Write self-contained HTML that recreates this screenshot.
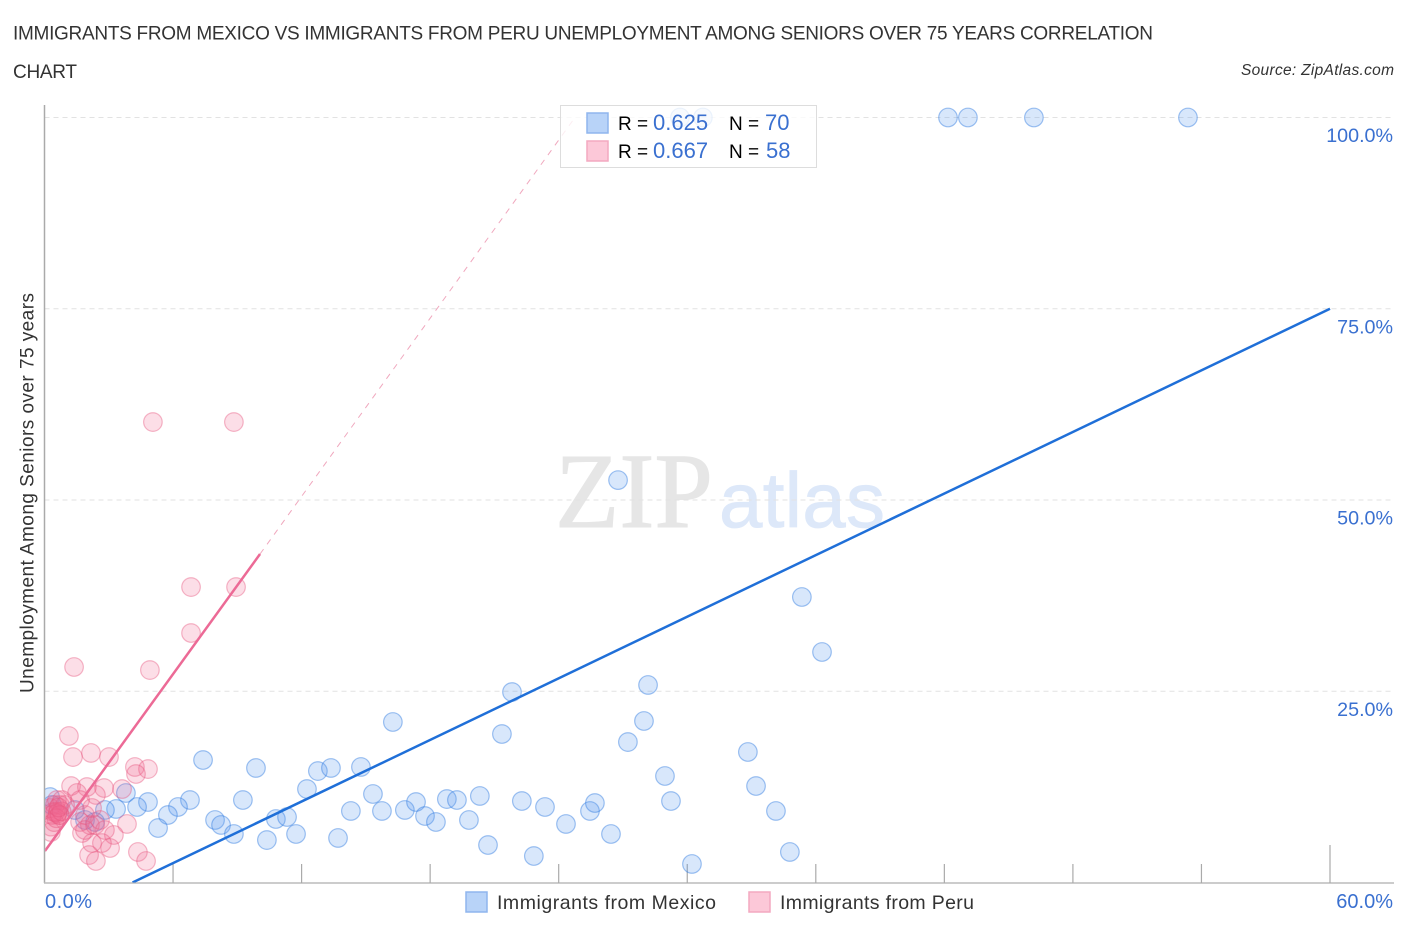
<!DOCTYPE html>
<html>
<head>
<meta charset="utf-8">
<title>Immigrants from Mexico vs Immigrants from Peru Unemployment Among Seniors over 75 Years Correlation Chart</title>
<style>
html,body{margin:0;padding:0;background:#fff;}
svg{display:block;font-family:"Liberation Sans",sans-serif;}
</style>
</head>
<body>
<svg id="chart" xmlns="http://www.w3.org/2000/svg" width="1406" height="930" viewBox="0 0 1406 930">
  <defs>
    <clipPath id="plot-clip"><rect x="45.2" y="90" width="1360" height="792.5"/></clipPath>
  </defs>
  <text x="13" y="39.5" font-size="19" fill="#333" textLength="1140" lengthAdjust="spacing">IMMIGRANTS FROM MEXICO VS IMMIGRANTS FROM PERU UNEMPLOYMENT AMONG SENIORS OVER 75 YEARS CORRELATION</text>
  <text x="13" y="78" font-size="19" fill="#333" textLength="64" lengthAdjust="spacing">CHART</text>
  <text x="1241" y="75" font-size="15.5" font-style="italic" fill="#333" textLength="153" lengthAdjust="spacing">Source: ZipAtlas.com</text>

  <text x="555" y="527" font-family="'Liberation Serif',serif" font-size="107" fill="#e6e6e6" stroke="#e6e6e6" stroke-width="1" textLength="158" lengthAdjust="spacingAndGlyphs">ZIP</text>
  <text x="719" y="527" font-size="78" fill="#dde8f9" stroke="#dde8f9" stroke-width="0.8" textLength="166" lengthAdjust="spacing">atlas</text>

  <g id="grid"></g>
  <g id="axes"></g>
  <g clip-path="url(#plot-clip)">
    <g id="blue-points"></g>
    <g id="pink-points"></g>
    <g id="trendlines"></g>
  </g>
  <g id="x-labels"></g>
  <g id="y-labels"></g>

  <text transform="translate(33.5,693) rotate(-90)" font-size="19" fill="#333" textLength="400" lengthAdjust="spacing">Unemployment Among Seniors over 75 years</text>

  <g>
    <rect x="560.5" y="105.5" width="256" height="62" fill="#fff" fill-opacity="0.8" stroke="#ddd" stroke-width="1"/>
    <rect x="587" y="113" width="21" height="20" fill="#b8d3f8" stroke="#8fb5ee" stroke-width="1.5"/>
    <rect x="587" y="141" width="21" height="20" fill="#fcc8d8" stroke="#f3a9c0" stroke-width="1.5"/>
    <text x="618" y="130" font-size="19">R =</text>
    <text x="653" y="130" font-size="22" fill="#3a70d0">0.625</text>
    <text x="729" y="130" font-size="19">N =</text>
    <text x="765" y="130" font-size="22" fill="#3a70d0">70</text>
    <text x="618" y="158" font-size="19">R =</text>
    <text x="653" y="158" font-size="22" fill="#3a70d0">0.667</text>
    <text x="729" y="158" font-size="19">N =</text>
    <text x="766" y="158" font-size="22" fill="#3a70d0">58</text>
  </g>

  <g>
    <rect x="466" y="892" width="21" height="20" fill="#b8d3f8" stroke="#8fb5ee" stroke-width="1.5"/>
    <text x="497" y="909" font-size="19.5" fill="#333" textLength="219" lengthAdjust="spacing">Immigrants from Mexico</text>
    <rect x="749" y="892" width="21" height="20" fill="#fcc8d8" stroke="#f3a9c0" stroke-width="1.5"/>
    <text x="780" y="909" font-size="19.5" fill="#333" textLength="194" lengthAdjust="spacing">Immigrants from Peru</text>
  </g>
</svg>
<script>
const mexicoX = [29.66,30.73,42.17,43.10,46.18,53.37,26.77,35.35,36.29,28.17,21.82,27.98,16.26,21.35,27.23,32.83,7.40,9.87,12.76,13.37,14.77,28.96,33.21,12.25,15.33,9.26,6.79,4.83,3.80,4.32,3.34,6.23,5.76,5.30,7.96,8.24,8.84,10.38,10.80,11.32,11.74,13.70,14.30,15.75,16.82,17.34,17.76,18.27,18.78,19.25,19.81,20.32,20.70,22.28,22.84,23.36,24.34,25.46,25.69,26.44,29.24,30.22,34.14,34.79,2.82,2.36,1.89,1.42,0.26,0.35];
const mexicoY = [100,100,100,100,100,100,52.6,37.32,30.13,25.82,24.9,21.11,20.98,19.41,18.36,17.06,16.01,14.97,14.57,14.97,15.10,13.92,12.61,12.22,11.57,10.78,10.78,10.52,11.70,9.87,9.61,9.87,8.82,7.12,8.17,7.52,6.34,5.55,8.30,8.56,6.34,5.82,9.35,9.35,9.48,10.52,8.69,7.91,10.91,10.78,8.17,11.31,4.90,10.65,3.46,9.87,7.65,9.35,10.39,6.34,10.65,2.42,9.35,3.99,9.48,7.91,8.17,9.48,11.17,10.13];
const peruX = [5.06,8.84,6.84,8.94,6.84,4.92,1.38,1.14,1.33,2.17,3.01,4.22,4.83,4.27,1.24,1.98,2.78,3.62,1.52,2.40,1.66,3.85,3.24,3.06,2.68,2.22,2.08,2.40,4.36,4.74,1.75,0.26,0.35,0.30,0.30,0.40,0.49,0.58,0.72,0.63,0.82,0.96,0.72,0.45,0.60,0.50,0.70,1.66,1.89,2.12,1.89,2.36,2.59,2.82,0.55,0.80,0.65,2.22];
const peruY = [60.19,60.19,38.62,38.62,32.61,27.77,28.17,19.15,16.40,16.93,16.40,15.10,14.83,14.18,12.61,12.48,12.35,12.22,11.70,11.44,10.78,7.65,6.21,4.51,5.16,5.16,3.59,2.81,3.99,2.81,6.47,9.74,8.82,7.30,6.60,9.21,10.13,10.78,10.13,9.21,10.78,10.13,8.82,7.90,9.00,9.20,8.80,7.91,8.82,7.52,6.86,7.52,8.17,6.86,8.40,9.30,9.80,9.74];
const mexicoTrendX = [4.11, 60];
const mexicoTrendY = [0, 75];
const peruTrendX = [0.02, 10.06];
const peruTrendY = [4.12, 42.94];
const peruExtensionX = [10.06, 24.76];
const peruExtensionY = [42.94, 100];
const yTickValues = [100, 75, 50, 25];
const yTickLabels = ["100.0%", "75.0%", "50.0%", "25.0%"];
const xTickValues = [6, 12, 18, 24, 30, 36, 42, 48, 54, 60];
const xEndLabels = ["0.0%", "60.0%"];

const NS = "http://www.w3.org/2000/svg";
function xScale(v){ return 44.5 + v * 21.425; }
function yScale(v){ return 882.5 - v * 7.65; }
function make(tag, parentId, attrs){
  const el = document.createElementNS(NS, tag);
  for (const k in attrs) el.setAttribute(k, attrs[k]);
  document.getElementById(parentId).appendChild(el);
  return el;
}

yTickValues.forEach(function(v){
  const g = make("line", "grid", {x1:44.5, x2:1393, y1:yScale(v), y2:yScale(v), stroke:"#e2e2e2", "stroke-width":1, "stroke-dasharray":"5 4"});
  
  
});

const ySpine = make("line", "axes", {x1:44.5, x2:44.5, y1:105, y2:883, stroke:"#aaa", "stroke-width":1.5});


const xSpine = make("line", "axes", {x1:44, x2:1394, y1:883, y2:883, stroke:"#bbb", "stroke-width":1.5});


xTickValues.forEach(function(v, i){
  const top = i === xTickValues.length - 1 ? 845 : 864;
  const t = make("line", "axes", {x1:xScale(v), x2:xScale(v), y1:top, y2:883, stroke:"#aaa", "stroke-width":1.2});
  
  
});

mexicoX.forEach(function(v, i){
  const c = make("circle", "blue-points", {cx:xScale(v), cy:yScale(mexicoY[i]), r:9.3, fill:"#5b9bf0", "fill-opacity":0.24, stroke:"#2f7ae0", "stroke-opacity":0.45, "stroke-width":1.2});
  
  
});
peruX.forEach(function(v, i){
  const c = make("circle", "pink-points", {cx:xScale(v), cy:yScale(peruY[i]), r:9.3, fill:"#f06a90", "fill-opacity":0.22, stroke:"#e8557f", "stroke-opacity":0.42, "stroke-width":1.2});
  
  
});

const peruExt = make("line", "trendlines", {x1:xScale(peruExtensionX[0]), y1:yScale(peruExtensionY[0]), x2:xScale(peruExtensionX[1]), y2:yScale(peruExtensionY[1]), stroke:"#f0a8be", "stroke-width":1, "stroke-dasharray":"6 6"});


const peruLine = make("line", "trendlines", {x1:xScale(peruTrendX[0]), y1:yScale(peruTrendY[0]), x2:xScale(peruTrendX[1]), y2:yScale(peruTrendY[1]), stroke:"#ec6a96", "stroke-width":2.5});


const mexicoLine = make("line", "trendlines", {x1:xScale(mexicoTrendX[0]), y1:yScale(mexicoTrendY[0]), x2:xScale(mexicoTrendX[1]), y2:yScale(mexicoTrendY[1]), stroke:"#1f6fd8", "stroke-width":2.5});



yTickValues.forEach(function(v, i){
  const t = make("text", "y-labels", {x:1393, y:yScale(v) + 24.5, "text-anchor":"end", "font-size":19.7, fill:"#3a70d0"});
  
  
  t.textContent = yTickLabels[i];
});
const x0 = make("text", "x-labels", {x:45, y:908, "font-size":20, fill:"#3a70d0", textLength:47, lengthAdjust:"spacing"});


x0.textContent = xEndLabels[0];
const x1 = make("text", "x-labels", {x:1393, y:908, "text-anchor":"end", "font-size":20, fill:"#3a70d0"});


x1.textContent = xEndLabels[1];
</script>
</body>
</html>
